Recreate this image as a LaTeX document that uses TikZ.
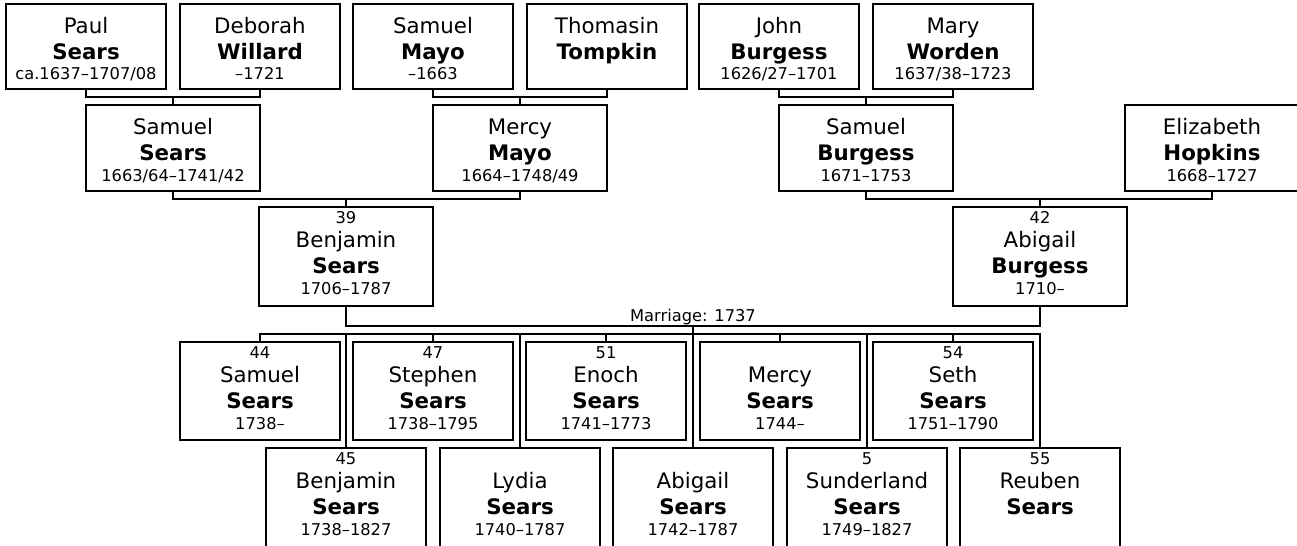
\documentclass[tikz,border=0pt]{standalone}
\usepackage{fontspec}
\setmainfont{DejaVu Sans}
\newcommand{\namefont}{\fontsize{16}{19}\selectfont}
\newcommand{\datefont}{\fontsize{12.2}{14}\selectfont}
\newcommand{\persline}[2]{\vskip#1\hbox to\hsize{\hss\smash{#2}\hss}}
% box text, no number line: first name, last name, dates
\newcommand{\elder}[3]{\vbox to\bh{\hsize=\bw\offinterlineskip
  \persline{21.75pt}{\namefont #1}\persline{19.5pt}{\namefont\bfseries #2}%
  \persline{15.75pt}{\datefont #3}\vfil}}
% box text with number line: number, first name, last name, dates
\newcommand{\young}[4]{\vbox to\bh{\hsize=\bw\offinterlineskip
  \persline{12pt}{\datefont #1}\persline{18pt}{\namefont #2}%
  \persline{19.5pt}{\namefont\bfseries #3}\persline{15.75pt}{\datefont #4}\vfil}}
\begin{document}
\begin{tikzpicture}[x=0.75pt,y=-0.75pt]
        \tikzstyle{person}=[draw=black,line width=1.5pt,inner sep=0pt,outer sep=0pt,fill=white]
        \tikzstyle{link}=[draw=black,line width=1.5pt]
        \tikzstyle{tag}=[inner sep=0pt,font=\datefont]
        \useasboundingbox (0,0) rectangle (1297,546);
        \clip (0,0) rectangle (1297,546);
       % grandparents
       \begin{scope}
         \def\bw{120pt}\def\bh{63.75pt}
         \node [person] (paul) at (86,46.5) {\elder{Paul}{Sears}{ca.1637–1707/08}};
         \node [person] (deborah) at (260,46.5) {\elder{Deborah}{Willard}{–1721}};
         \node [person] (smayo) at (433,46.5) {\elder{Samuel}{Mayo}{–1663}};
         \node [person] (thomasin) at (607,46.5) {\elder{Thomasin}{Tompkin}{}};
         \node [person] (jburgess) at (779,46.5) {\elder{John}{Burgess}{1626/27–1701}};
         \node [person] (mworden) at (953,46.5) {\elder{Mary}{Worden}{1637/38–1723}};
       \end{scope}
       % parents
       \begin{scope}
         \def\bw{130.5pt}\def\bh{64.5pt}
         \node [person] (ssears) at (173,148) {\elder{Samuel}{Sears}{1663/64–1741/42}};
         \node [person] (mmayo) at (520,148) {\elder{Mercy}{Mayo}{1664–1748/49}};
         \node [person] (sburgess) at (866,148) {\elder{Samuel}{Burgess}{1671–1753}};
         \node [person, minimum width=126pt] (ehopkins) at (1212,148) {\elder{Elizabeth}{Hopkins}{1668–1727}};
       \end{scope}
       \begin{scope}
         \def\bw{130.5pt}\def\bh{74.25pt}
         \node [person] (benjamin) at (346,256.5) {\young{39}{Benjamin}{Sears}{1706–1787}};
         \node [person] (abigailb) at (1040,256.5) {\young{42}{Abigail}{Burgess}{1710–}};
       \end{scope}
       % children
       \begin{scope}
         \def\bw{120pt}\def\bh{73.5pt}
         \node [person] (samuels) at (260,391) {\young{44}{Samuel}{Sears}{1738–}};
         \node [person] (stephen) at (433,391) {\young{47}{Stephen}{Sears}{1738–1795}};
         \node [person] (enoch) at (606,391) {\young{51}{Enoch}{Sears}{1741–1773}};
         \node [person] (mercys) at (780,391) {\young{}{Mercy}{Sears}{1744–}};
         \node [person] (seth) at (953,391) {\young{54}{Seth}{Sears}{1751–1790}};
       \end{scope}
       \begin{scope}
         \def\bw{120pt}\def\bh{82.5pt}
         \node [person] (benjamins) at (346,503) {\young{45}{Benjamin}{Sears}{1738–1827}};
         \node [person] (lydia) at (520,503) {\young{}{Lydia}{Sears}{1740–1787}};
         \node [person] (abigails) at (693,503) {\young{}{Abigail}{Sears}{1742–1787}};
         \node [person] (sunderland) at (867,503) {\young{5}{Sunderland}{Sears}{1749–1827}};
         \node [person] (reuben) at (1040,503) {\young{55}{Reuben}{Sears}{}};
       \end{scope}
       % couples
       \draw[link] (paul.south) -- ++(0,8) -| (deborah.south);
       \draw[link] (ssears.north) -- ++(0,-8);
       \draw[link] (smayo.south) -- ++(0,8) -| (thomasin.south);
       \draw[link] (mmayo.north) -- ++(0,-8);
       \draw[link] (jburgess.south) -- ++(0,8) -| (mworden.south);
       \draw[link] (sburgess.north) -- ++(0,-8);
       \draw[link] (ssears.south) -- ++(0,8) -| (mmayo.south);
       \draw[link] (benjamin.north) -- ++(0,-8);
       \draw[link] (sburgess.south) -- ++(0,8) -| (ehopkins.south);
       \draw[link] (abigailb.north) -- ++(0,-8);
       % marriage and children
       \coordinate (wed) at (693,326);
       \coordinate (bus) at (0,334);
       \draw[link] (benjamin.south) -- ++(0,20) -| (abigailb.south);
       \node [tag, anchor=base] (wedtag) at (693,321) {Marriage: 1737};
       \draw[link] (wed) -- (abigails.north);
       \draw[link] (samuels.north) -- ++(0,-8) -| (reuben.north);
       \draw[link] (stephen.north) -- ++(0,-8);
       \draw[link] (enoch.north) -- ++(0,-8);
       \draw[link] (mercys.north) -- ++(0,-8);
       \draw[link] (seth.north) -- ++(0,-8);
       \draw[link] (benjamins.north) -- (benjamins.north |- bus);
       \draw[link] (lydia.north) -- (lydia.north |- bus);
       \draw[link] (sunderland.north) -- (sunderland.north |- bus);
      \end{tikzpicture}
\end{document}
